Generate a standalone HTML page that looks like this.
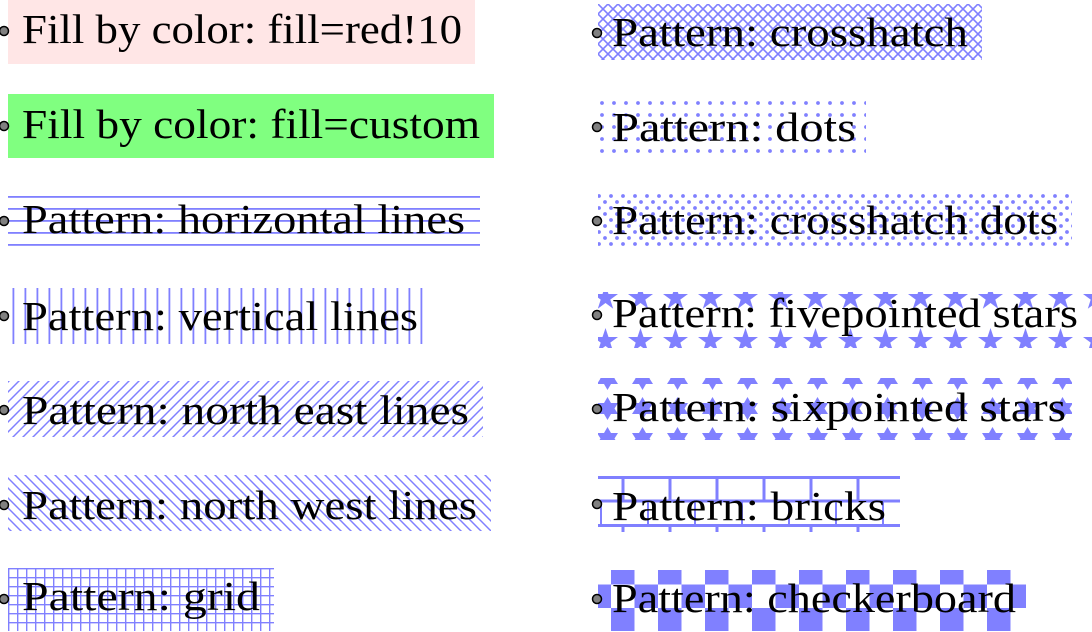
<!DOCTYPE html>
<html><head><meta charset="utf-8"><style>
html,body{margin:0;padding:0;background:#fff;width:1092px;height:632px;overflow:hidden}
text{font-family:"Liberation Serif",serif;font-size:41px;fill:#000}
</style></head><body>
<svg width="1092" height="632" viewBox="0 0 1092 632" xmlns="http://www.w3.org/2000/svg">
<defs>
<pattern id="hl" width="12" height="12" patternUnits="userSpaceOnUse" y="196"><rect x="0" y="0" width="12" height="1.8" fill="#8080ff"/></pattern>
<pattern id="vl" width="12" height="12" patternUnits="userSpaceOnUse" x="12.5"><rect x="0" y="0" width="1.8" height="12" fill="#8080ff"/></pattern>
<pattern id="ne" width="10" height="10" patternUnits="userSpaceOnUse"><path d="M-2,12 L12,-2 M-2,2 L2,-2 M8,12 L12,8" stroke="#8080ff" stroke-width="1.5"/></pattern>
<pattern id="nw" width="10" height="10" patternUnits="userSpaceOnUse"><path d="M-2,-2 L12,12 M-2,8 L2,12 M8,-2 L12,2" stroke="#8080ff" stroke-width="1.5"/></pattern>
<pattern id="gr" width="9" height="9" patternUnits="userSpaceOnUse" x="8" y="568"><path d="M0,0.7 H9 M0.7,0 V9" stroke="#8080ff" stroke-width="1.4"/></pattern>
<pattern id="ch" width="10" height="10" patternUnits="userSpaceOnUse" x="598" y="4"><path d="M-2,12 L12,-2 M-2,2 L2,-2 M8,12 L12,8 M-2,-2 L12,12 M-2,8 L2,12 M8,-2 L12,2" stroke="#8080ff" stroke-width="1.6"/></pattern>
<pattern id="dt" width="12" height="12" patternUnits="userSpaceOnUse" x="596" y="97"><circle cx="6" cy="6" r="1.9" fill="#8080ff"/></pattern>
<pattern id="cd" width="12" height="12" patternUnits="userSpaceOnUse" x="596" y="193"><circle cx="3" cy="3" r="1.9" fill="#8080ff"/><circle cx="9" cy="9" r="1.9" fill="#8080ff"/></pattern>
<pattern id="st5" width="35" height="43" patternUnits="userSpaceOnUse" x="588" y="276"><polygon fill="#8080ff" points="17.5,9 20.5,18 30,18 22.3,23.6 25.2,32.7 17.5,27 9.8,32.7 12.7,23.6 5,18 14.5,18"/></pattern>
<pattern id="st6" width="35" height="30" patternUnits="userSpaceOnUse" x="590" y="393"><polygon fill="#8080ff" points="17.5,4 21,10 28,10 24.5,15.5 28,21 21,21 17.5,27 14,21 7,21 10.5,15.5 7,10 14,10"/></pattern>
<pattern id="br" width="47" height="48" patternUnits="userSpaceOnUse" x="600" y="476"><path d="M0,1.5 H47 M0,25 H47 M23,0 V25 M0.5,25 V48" stroke="#8080ff" stroke-width="3"/></pattern>
<pattern id="cb" width="47" height="47" patternUnits="userSpaceOnUse" x="587.5" y="561"><rect x="23.5" y="0" width="23.5" height="23.5" fill="#8080ff"/><rect x="0" y="23.5" width="23.5" height="23.5" fill="#8080ff"/></pattern>
</defs>
<rect x="8" y="0" width="467" height="64" fill="#ffe6e6"/>
<rect x="8" y="94" width="486" height="64" fill="#80ff80"/>
<rect x="8" y="196" width="472" height="51" fill="url(#hl)"/>
<rect x="12" y="288" width="412" height="56" fill="url(#vl)"/>
<rect x="8" y="381" width="475" height="56" fill="url(#ne)"/>
<rect x="8" y="475" width="483" height="56" fill="url(#nw)"/>
<rect x="8" y="568" width="266" height="63" fill="url(#gr)"/>
<rect x="598" y="4" width="384" height="56" fill="url(#ch)"/>
<rect x="598" y="100" width="268" height="54" fill="url(#dt)"/>
<rect x="598" y="194" width="474" height="54" fill="url(#cd)"/>
<rect x="598" y="292" width="494" height="56" fill="url(#st5)"/>
<rect x="598" y="378" width="474" height="62" fill="url(#st6)"/>
<rect x="598" y="476" width="302" height="56" fill="url(#br)"/>
<rect x="598" y="570" width="428" height="61" fill="url(#cb)"/>
<g fill="#808080" stroke="#000" stroke-width="1.5">
<circle cx="4" cy="31" r="4.5"/><circle cx="4" cy="126" r="4.5"/><circle cx="4" cy="221" r="4.5"/><circle cx="4" cy="316" r="4.5"/><circle cx="4" cy="410" r="4.5"/><circle cx="4" cy="505" r="4.5"/><circle cx="4" cy="599" r="4.5"/>
<circle cx="597" cy="33" r="4.5"/><circle cx="597" cy="127" r="4.5"/><circle cx="597" cy="221" r="4.5"/><circle cx="597" cy="315" r="4.5"/><circle cx="597" cy="409" r="4.5"/><circle cx="597" cy="504" r="4.5"/><circle cx="597" cy="599" r="4.5"/>
</g>
<text x="22" y="43" textLength="440" lengthAdjust="spacingAndGlyphs">Fill by color: fill=red!10</text>
<text x="22" y="138" textLength="458" lengthAdjust="spacingAndGlyphs">Fill by color: fill=custom</text>
<text x="22" y="233" textLength="443" lengthAdjust="spacingAndGlyphs">Pattern: horizontal lines</text>
<text x="22" y="330" textLength="396" lengthAdjust="spacingAndGlyphs">Pattern: vertical lines</text>
<text x="22" y="424" textLength="447" lengthAdjust="spacingAndGlyphs">Pattern: north east lines</text>
<text x="22" y="519" textLength="455" lengthAdjust="spacingAndGlyphs">Pattern: north west lines</text>
<text x="22" y="610" textLength="238" lengthAdjust="spacingAndGlyphs">Pattern: grid</text>
<text x="612" y="46" textLength="356" lengthAdjust="spacingAndGlyphs">Pattern: crosshatch</text>
<text x="612" y="141" textLength="244" lengthAdjust="spacingAndGlyphs">Pattern: dots</text>
<text x="612" y="234" textLength="446" lengthAdjust="spacingAndGlyphs">Pattern: crosshatch dots</text>
<text x="612" y="327" textLength="466" lengthAdjust="spacingAndGlyphs">Pattern: fivepointed stars</text>
<text x="612" y="421" textLength="454" lengthAdjust="spacingAndGlyphs">Pattern: sixpointed stars</text>
<text x="612" y="520" textLength="274" lengthAdjust="spacingAndGlyphs">Pattern: bricks</text>
<text x="612" y="612" textLength="404" lengthAdjust="spacingAndGlyphs">Pattern: checkerboard</text>
</svg>
</body></html>
